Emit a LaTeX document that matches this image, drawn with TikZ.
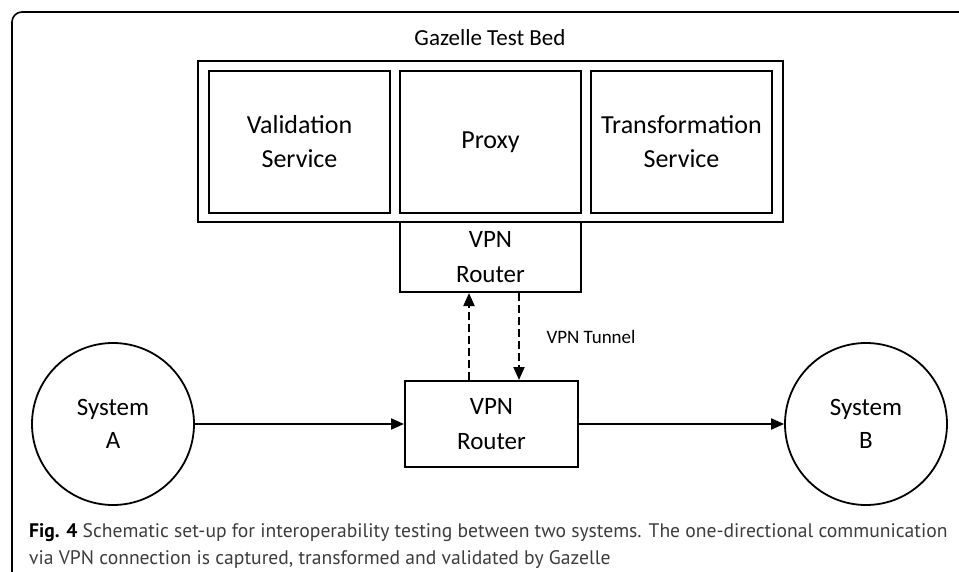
\documentclass[tikz,border=0pt]{standalone}
\usepackage{fontspec}
\setmainfont{Carlito}
\newfontfamily\capfont{PT Sans}
\usetikzlibrary{arrows.meta,positioning}
\definecolor{captiongray}{RGB}{60,60,60}

\begin{document}
\begin{tikzpicture}[x=1pt, y=-1pt,
    box/.style={draw, line width=2pt, inner sep=0pt, align=center, font=\fontsize{26}{34}\selectfont},
    router/.style={box, font=\fontsize{25}{35}\selectfont},
    sys/.style={draw, circle, line width=1.8pt, minimum size=162pt, inner sep=0pt, align=center, font=\fontsize{25}{33}\selectfont},
    link/.style={line width=2pt, -{Triangle[length=13pt, width=11pt]}},
    tunnel/.style={link, dash pattern=on 8pt off 4pt}]
  \useasboundingbox (0,0) rectangle (959,572);

  % frame
  \draw[line width=1.6pt, rounded corners=10pt] (12,572) -- (12,12) -- (959,12);

  % test bed
  \node[box, minimum width=585pt, minimum height=161pt] (testbed) at (490.5,141.5) {};
  \node[font=\fontsize{23}{27}\selectfont] (title) at (490,38) {Gazelle Test Bed};
  \node[box, minimum width=181pt, minimum height=142pt] (valid) at (299.5,142) {Validation\\Service};
  \node[box, minimum width=181pt, minimum height=142pt] (proxy) at (490.5,142) {Proxy};
  \node[box, minimum width=181pt, minimum height=142pt] (transf) at (681.5,142) {Transformation\\Service};

  % routers
  \node[router, minimum width=181pt, minimum height=70pt] (vpnup) at (490.5,257) {VPN\\Router};
  \node[router, minimum width=173pt, minimum height=86pt] (vpnlow) at (491.5,424) {VPN\\Router};

  % systems
  \node[sys] (sysa) at (113,424) {System\\A};
  \node[sys] (sysb) at (866,424) {System\\B};

  \draw[link] (sysa) -- (vpnlow);
  \draw[link] (vpnlow) -- (sysb);

  % tunnel
  \coordinate (tunup) at (469,0);
  \coordinate (tundown) at (519,0);
  \draw[tunnel] (vpnlow.north -| tunup) -- (vpnup.south -| tunup);
  \draw[tunnel] (vpnup.south -| tundown) -- (vpnlow.north -| tundown);
  \node[font=\fontsize{19}{22}\selectfont, anchor=west] (tunlabel) at (543,337) {VPN Tunnel};

  % caption
  \node[anchor=north west, align=left, inner sep=0pt, text=captiongray,
        font=\capfont\fontsize{19.6}{27}\selectfont] (caption) at (29,523)
    {\textcolor{black}{\textbf{Fig. 4}} Schematic set-up for interoperability testing between two systems. The one-directional communication\\
     via VPN connection is captured, transformed and validated by Gazelle};
\end{tikzpicture}
\end{document}
